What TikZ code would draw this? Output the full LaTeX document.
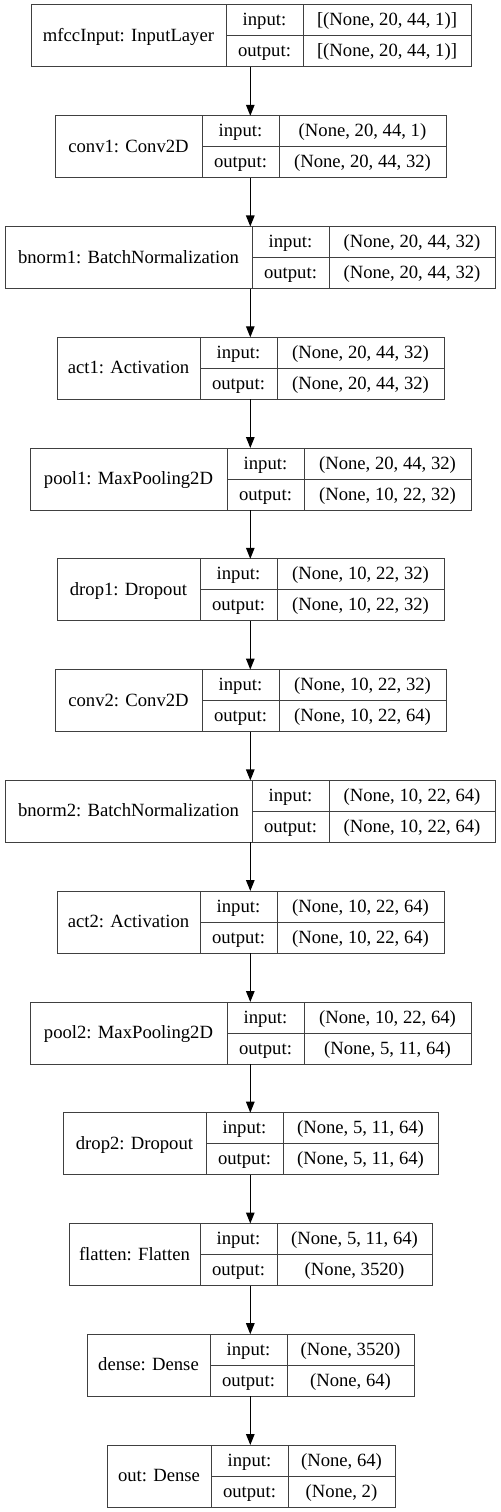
\documentclass[tikz,border=0pt]{standalone}
\usepackage{fontspec}
\setmainfont{Liberation Serif}
\usetikzlibrary{arrows.meta}
\tikzset{
  frame/.style={draw=black!75, line width=1bp, rectangle, inner sep=0pt, outer sep=0pt, fill=white},
  divline/.style={draw=black!75, line width=1bp},
  txt/.style={inner sep=0pt, text height=11bp, text depth=0pt, font=\fontsize{18.67bp}{22bp}\selectfont},
  arr/.style={draw=black, line width=1.2bp, -{Triangle[length=11bp, width=8.5bp]}},
}
\newcommand\kerasLayer[9]{%
  \node[frame, anchor=north west, minimum width={(#6-#3)*1bp}, minimum height=62bp] (#1) at (#3,#2) {};
  \draw[divline] (#4,#2) -- (#4,{#2+62});
  \draw[divline] (#5,#2) -- (#5,{#2+62});
  \draw[divline] (#4,{#2+31}) -- (#6,{#2+31});
  \node[txt] (#1-name) at ({(#3+#4)/2},{#2+31}) {#7};
  \node[txt] (#1-il) at ({(#4+#5)/2},{#2+15.5}) {input:};
  \node[txt] (#1-ol) at ({(#4+#5)/2},{#2+46.5}) {output:};
  \node[txt] (#1-iv) at ({(#5+#6)/2},{#2+15.5}) {#8};
  \node[txt] (#1-ov) at ({(#5+#6)/2},{#2+46.5}) {#9};
}
\begin{document}
\begin{tikzpicture}[x=1bp,y=-1bp]
\useasboundingbox (0,0) rectangle (501,1512);
\fill[white] (0,0) rectangle (501,1512);
\coordinate (axis) at (250.3,0);
\kerasLayer{L1}{5}{31}{226}{303}{471}{mfccInput: InputLayer}{[(None, 20, 44, 1)]}{[(None, 20, 44, 1)]}
\kerasLayer{L2}{115.8}{55}{202}{279}{446}{conv1: Conv2D}{(None, 20, 44, 1)}{(None, 20, 44, 32)}
\kerasLayer{L3}{226.5}{5}{252}{329}{495}{bnorm1: BatchNormalization}{(None, 20, 44, 32)}{(None, 20, 44, 32)}
\kerasLayer{L4}{337.3}{57}{200}{277}{444}{act1: Activation}{(None, 20, 44, 32)}{(None, 20, 44, 32)}
\kerasLayer{L5}{448}{30}{227}{304}{471}{pool1: MaxPooling2D}{(None, 20, 44, 32)}{(None, 10, 22, 32)}
\kerasLayer{L6}{558.8}{57}{200}{277}{444}{drop1: Dropout}{(None, 10, 22, 32)}{(None, 10, 22, 32)}
\kerasLayer{L7}{669.6}{55}{202}{279}{446}{conv2: Conv2D}{(None, 10, 22, 32)}{(None, 10, 22, 64)}
\kerasLayer{L8}{780.4}{5}{252}{329}{495}{bnorm2: BatchNormalization}{(None, 10, 22, 64)}{(None, 10, 22, 64)}
\kerasLayer{L9}{891}{57}{200}{277}{444}{act2: Activation}{(None, 10, 22, 64)}{(None, 10, 22, 64)}
\kerasLayer{L10}{1002}{30}{227}{304}{471}{pool2: MaxPooling2D}{(None, 10, 22, 64)}{(None, 5, 11, 64)}
\kerasLayer{L11}{1112.7}{63}{206}{283}{438}{drop2: Dropout}{(None, 5, 11, 64)}{(None, 5, 11, 64)}
\kerasLayer{L12}{1223.5}{69}{200}{277}{432}{flatten: Flatten}{(None, 5, 11, 64)}{(None, 3520)}
\kerasLayer{L13}{1334.2}{87}{210}{287}{414}{dense: Dense}{(None, 3520)}{(None, 64)}
\kerasLayer{L14}{1445}{107}{211}{288}{395}{out: Dense}{(None, 64)}{(None, 2)}
\foreach \a/\b in {L1/L2,L2/L3,L3/L4,L4/L5,L5/L6,L6/L7,L7/L8,L8/L9,L9/L10,L10/L11,L11/L12,L12/L13,L13/L14}
  \draw[arr] (\a.south -| axis) -- (\b.north -| axis);
\end{tikzpicture}
\end{document}
